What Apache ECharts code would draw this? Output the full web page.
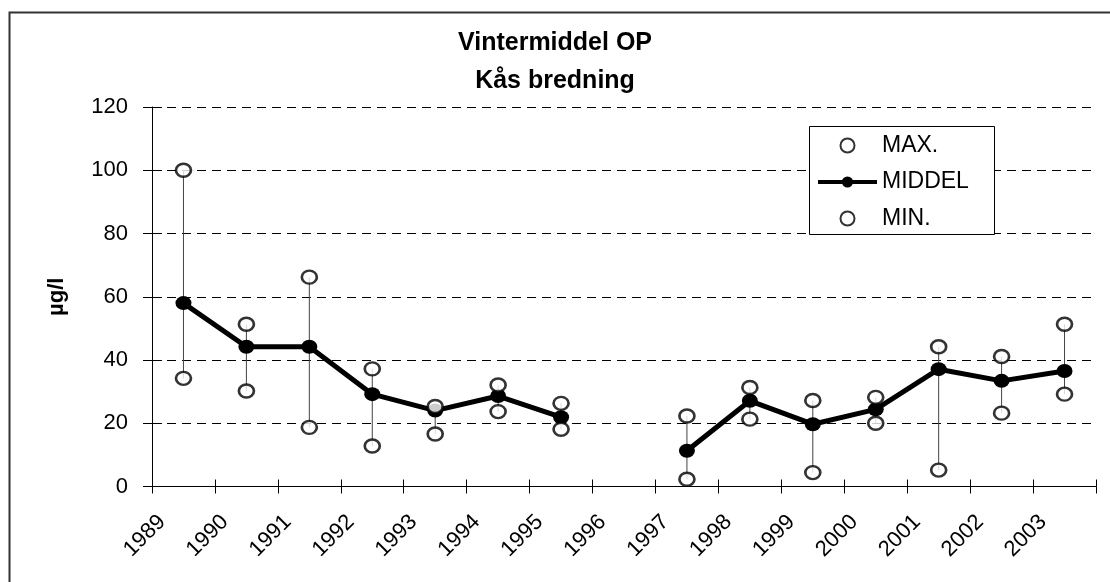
<!DOCTYPE html>
<html>
<head>
<meta charset="utf-8">
<script src="https://cdn.jsdelivr.net/npm/echarts@6/dist/echarts.min.js"></script>
<style>
html,body{margin:0;padding:0;background:#fff;}
#chart{width:1110px;height:582px;}
</style>
</head>
<body>
<div id="chart"></div>
<script>
const years = [1989, 1990, 1991, 1992, 1993, 1994, 1995, 1996, 1997, 1998, 1999, 2000, 2001, 2002, 2003];
const maxValues = [100, 51.3, 66.2, 37.2, 25.3, 32.1, 26.3, null, 22.3, 31.3, 27.2, 28.2, 44.2, 41.1, 51.3];
const middelValues = [58, 44.2, 44.2, 29.2, 24, 28.6, 21.9, null, 11.3, 27.1, 19.7, 24.4, 37.1, 33.4, 36.5];
const minValues = [34.2, 30.2, 18.7, 12.8, 16.6, 23.7, 18.1, null, 2.3, 21.3, 4.4, 20, 5.2, 23.2, 29.2];
const yTicks = [0, 20, 40, 60, 80, 100, 120];
const titleText = 'Vintermiddel OP\nKås bredning';
const yUnit = 'µg/l';
const seriesNames = ['MAX.', 'MIDDEL', 'MIN.'];

const FONT = '"Liberation Sans", Arial, sans-serif';
const firstYear = years[0];
const endYear = years[years.length - 1] + 1;
// each year's value sits in the middle of its year band
const pos = y => y + 0.5;
const pairs = arr => years.map((y, i) => [pos(y), arr[i] == null ? null : arr[i]]);
const scatterPairs = arr => years.map((y, i) => [pos(y), arr[i]]).filter(d => d[1] != null);
const hiLo = years.map((y, i) => [pos(y), minValues[i], maxValues[i]]).filter(d => d[1] != null && d[2] != null);

const chart = echarts.init(document.getElementById('chart'), null, {renderer: 'canvas'});
const gridLeft = 152, gridRight = 14, gridTop = 107, gridBottom = 95.5;
const plotW = 1110 - gridLeft - gridRight;
const labelShift = 10 / plotW * (endYear - firstYear);
const openCircle = {color: '#fff', borderColor: '#000', borderWidth: 2.5};

const option = {
  backgroundColor: '#fff',
  animation: false,
  textStyle: {fontFamily: FONT, color: '#000'},
  title: {
    text: titleText,
    left: 'center',
    top: 24,
    padding: [0, 0, 0, 10],
    textStyle: {fontFamily: FONT, fontSize: 25, fontWeight: 'bold', color: '#000', lineHeight: 38}
  },
  graphic: [
    {type: 'rect', left: 7, top: 10, z: -10, silent: true,
      shape: {width: 1200, height: 700}, style: {fill: 'none', stroke: '#333', lineWidth: 2}},
    {type: 'rect', left: 809, top: 126, z: 3, silent: true,
      shape: {width: 185, height: 108}, style: {fill: '#fff', stroke: '#000', lineWidth: 1}}
  ],
  legend: {
    orient: 'vertical',
    left: 816, top: 134,
    padding: 0,
    itemWidth: 59, itemHeight: 14, itemGap: 13.5,
    z: 5,
    lineStyle: {width: 4, color: '#000'},
    textStyle: {fontFamily: FONT, fontSize: 23, color: '#000', lineHeight: 22},
    data: seriesNames
  },
  grid: {left: gridLeft, right: gridRight, top: gridTop, bottom: gridBottom, containLabel: false},
  xAxis: [
    {type: 'value', min: firstYear, max: endYear, interval: 1, position: 'bottom',
      axisLine: {onZero: false, lineStyle: {color: '#000', width: 1}},
      axisTick: {inside: false, length: 7, lineStyle: {color: '#000'}},
      axisLabel: {show: false}, splitLine: {show: false}},
    {type: 'value', min: firstYear, max: endYear, interval: 1, position: 'bottom',
      axisLine: {show: false, onZero: false},
      axisTick: {inside: true, length: 7, lineStyle: {color: '#000'}},
      axisLabel: {show: false}, splitLine: {show: false}},
    {type: 'value', min: firstYear - labelShift, max: endYear - labelShift, position: 'bottom',
      axisLine: {show: false, onZero: false}, axisTick: {show: false}, splitLine: {show: false},
      axisLabel: {show: true, customValues: years, rotate: 45, margin: 32,
        fontFamily: FONT, fontSize: 22, color: '#000', formatter: v => String(Math.round(v))}}
  ],
  yAxis: [
    {type: 'value', min: yTicks[0], max: yTicks[yTicks.length - 1], interval: 20, position: 'left',
      name: yUnit, nameLocation: 'middle', nameGap: 84,
      nameTextStyle: {fontFamily: FONT, fontSize: 22, fontWeight: 'bold', color: '#000'},
      axisLine: {show: true, onZero: false, lineStyle: {color: '#000', width: 1}},
      axisTick: {show: true, inside: false, length: 9, lineStyle: {color: '#000'}},
      axisLabel: {margin: 24, fontFamily: FONT, fontSize: 22, color: '#000'},
      splitLine: {show: true, lineStyle: {color: '#000', width: 1, type: [9, 6]}}},
    {type: 'value', min: yTicks[0], max: yTicks[yTicks.length - 1], interval: 20, position: 'left',
      axisLine: {show: false, onZero: false},
      axisTick: {show: true, inside: true, length: 10, lineStyle: {color: '#000'}},
      axisLabel: {show: false}, splitLine: {show: false}}
  ],
  series: [
    {
      name: 'hilo', type: 'custom', xAxisIndex: 0, yAxisIndex: 0, z: 1,
      renderItem: (params, api) => {
        const a = api.coord([api.value(0), api.value(1)]);
        const b = api.coord([api.value(0), api.value(2)]);
        return {type: 'line', shape: {x1: a[0], y1: a[1], x2: b[0], y2: b[1]},
          style: {stroke: '#444', lineWidth: 1}};
      },
      data: hiLo
    },
    {
      name: seriesNames[1], type: 'line', xAxisIndex: 0, yAxisIndex: 0, z: 3,
      data: pairs(middelValues), connectNulls: false,
      symbol: 'circle', symbolSize: [16, 14], showAllSymbol: true,
      lineStyle: {color: '#000', width: 5},
      itemStyle: {color: '#000'}
    },
    {
      name: seriesNames[0], type: 'scatter', xAxisIndex: 0, yAxisIndex: 0, z: 4,
      data: scatterPairs(maxValues),
      symbol: 'circle', symbolSize: [15, 13],
      itemStyle: openCircle
    },
    {
      name: seriesNames[2], type: 'scatter', xAxisIndex: 0, yAxisIndex: 0, z: 4,
      data: scatterPairs(minValues),
      symbol: 'circle', symbolSize: [15, 13],
      itemStyle: openCircle
    }
  ]
};
chart.setOption(option);
</script>
</body>
</html>
